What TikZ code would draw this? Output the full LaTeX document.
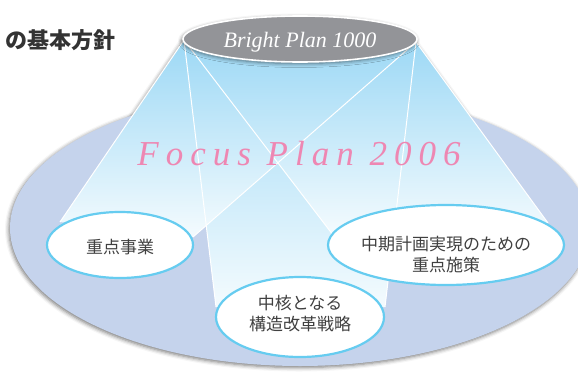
\documentclass[tikz,border=0pt]{standalone}
\usepackage{fontspec}
\setmainfont{Liberation Serif}
\newfontfamily\jp{Noto Sans CJK JP}
\usetikzlibrary{shapes.geometric,shadows.blur}
\definecolor{lav}{RGB}{197,211,236}
\definecolor{beamtop}{RGB}{156,216,245}
\definecolor{beambot}{RGB}{244,251,254}
\definecolor{spotline}{RGB}{102,204,240}
\definecolor{topgray}{RGB}{147,148,152}
\definecolor{pinktxt}{RGB}{238,135,178}
\definecolor{jptxt}{RGB}{64,64,64}
\definecolor{titletxt}{RGB}{51,51,51}
\tikzset{
  softshadow/.style={blur shadow={shadow xshift=-1pt,shadow yshift=-1.5pt,shadow blur radius=4pt,shadow opacity=55}},
  beamfill/.style={top color=beamtop,bottom color=beambot},
  beamedge/.style={draw=white,line width=1pt},
  spot/.style={ellipse,draw=spotline,line width=2.2pt,fill=white,inner sep=0pt},
  spottext/.style={font=\jp\fontsize{17}{21}\selectfont,text=jptxt,align=center},
}
\begin{document}
\begin{tikzpicture}[x=1pt,y=-1pt]
\useasboundingbox (0,0) rectangle (578,372);
\coordinate (TL) at (184,40);
\coordinate (TR) at (416,42);
\coordinate (A1) at (60,222);
\coordinate (A2) at (193,237);
\coordinate (B1) at (216,307);
\coordinate (B2) at (385,307);
\coordinate (C1) at (333,235);
\coordinate (C2) at (548,223);
% shadow of the cone
\path[softshadow] (TL) -- (A1) -- (C2) -- (TR) -- cycle;
% big plate
\path[softshadow,fill=lav] (300,228) ellipse [x radius=290pt,y radius=138pt];
% beams
\path[beamfill] (TL) -- (B1) -- (B2) -- (TR) -- cycle;
\path[beamfill] (TL) -- (A1) -- (A2) -- (TR) -- cycle;
\path[beamfill] (TL) -- (C1) -- (C2) -- (TR) -- cycle;
\draw[beamedge] (TL) -- (A1);
\draw[beamedge] (TR) -- (A2);
\draw[beamedge] (TL) -- (B1);
\draw[beamedge] (TR) -- (B2);
\draw[beamedge] (TL) -- (C1);
\draw[beamedge] (TR) -- (C2);
% top ellipse
\node[ellipse,fill=topgray,draw=white,line width=1.6pt,minimum width=234pt,minimum height=46pt,softshadow] (top) at (300,39) {};
\node[anchor=base,text=white,font=\itshape\fontsize{22}{26}\selectfont] (toptxt) at (300,47) {Bright Plan 1000};
% focus text
\node[anchor=base,text=pinktxt,font=\itshape\fontsize{35}{40}\selectfont\addfontfeature{LetterSpace=20}] (focus) at (299,165) {Focus Plan 2006};
% spots
\node[spot,minimum width=146pt,minimum height=66pt] (e1) at (120,245) {};
\node[spot,minimum width=168pt,minimum height=80pt] (e2) at (300,317) {};
\node[spot,minimum width=236pt,minimum height=80pt] (e3) at (446,245) {};
\node[spottext] (t1) at (120,247) {重点事業};
\node[spottext] (t2) at (300,313.5) {中核となる\\構造改革戦略};
\node[spottext] (t3) at (446,255) {中期計画実現のための\\重点施策};
% title
\node[anchor=east,font=\jp\bfseries\fontsize{22}{26}\selectfont,text=titletxt,inner sep=0pt] (title) at (116,40) {の基本方針};
\end{tikzpicture}
\end{document}
